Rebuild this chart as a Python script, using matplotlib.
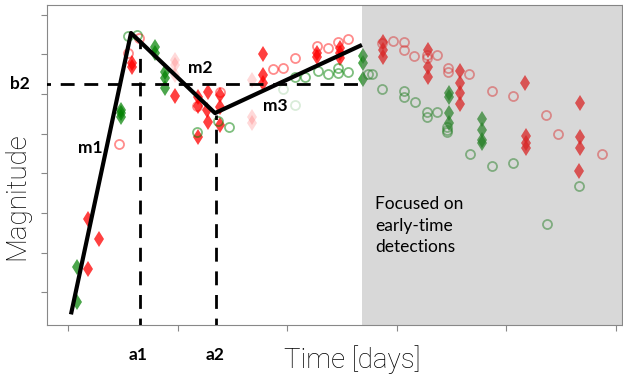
import matplotlib.pyplot as plt

# piecewise fit (days, magnitude)
fit_x = [0.27, 5.75, 13.41, 26.82]
fit_y = [0.44, 7.54, 5.52, 7.24]
a1, a2, b2 = 6.57, 13.50, 6.25
t_cut = 26.82

red_d_x = [1.82, 2.83, 1.82, 5.84, 5.84, 9.76, 12.77, 11.86, 13.87, 11.86, 12.68, 12.77, 13.87, 13.87, 11.86,
           17.79, 17.79, 17.79, 22.72, 22.72, 24.82, 24.82, 24.82,
           28.74, 28.74, 28.74, 32.85, 32.85, 32.85, 35.77, 35.77, 35.77, 35.77, 41.70, 41.79, 41.79, 41.79,
           46.72, 46.72, 46.72, 46.67]
red_d_y = [2.84, 2.34, 1.58, 6.78, 6.68, 5.95, 6.05, 5.93, 5.98, 5.70, 5.60, 5.29, 5.67, 5.22, 4.91,
           7.01, 6.48, 6.28, 7.04, 6.93, 7.16, 7.04, 6.91,
           7.31, 7.11, 6.93, 7.11, 6.68, 6.43, 6.58, 6.28, 6.03, 5.75, 6.28, 4.94, 4.76, 4.64,
           5.77, 4.91, 4.64, 4.05]

red_o_x = [4.65, 5.47, 6.50, 11.77, 13.87, 18.70, 19.62, 20.71, 22.72, 23.72, 24.64, 25.55,
           28.65, 29.65, 30.66, 30.66, 31.57, 32.76, 32.76, 33.67, 34.67, 34.67, 36.59, 38.69,
           40.60, 43.61, 44.71, 48.72]
red_o_y = [4.74, 7.04, 7.41, 5.70, 6.05, 6.63, 6.66, 6.91, 7.21, 7.16, 7.31, 7.39,
           7.29, 7.34, 7.31, 7.11, 6.96, 6.98, 6.91, 6.98, 6.66, 6.56, 6.51, 6.08,
           5.95, 5.47, 4.99, 4.48]

green_d_x = [0.82, 0.82, 4.84, 4.84, 4.84, 7.94, 7.94, 8.85, 8.85, 8.85,
             26.92, 26.92, 26.92, 34.76, 34.76, 34.76, 34.76, 37.77, 37.77, 37.77, 37.77]
green_d_y = [1.63, 0.75, 5.60, 5.52, 5.42, 7.19, 7.04, 6.56, 6.40, 6.15,
             6.96, 6.78, 6.38, 6.03, 5.93, 5.52, 5.27, 5.37, 5.09, 4.84, 4.76]

green_o_x = [5.50, 6.30, 11.77, 13.70, 14.70, 20.71, 21.62, 22.81, 23.72, 24.64, 25.55, 24.64,
             27.37, 27.74, 28.65, 30.66, 30.66, 31.66, 32.76, 32.76, 33.67, 34.58, 34.58, 34.58,
             36.68, 38.69, 40.60, 46.62, 43.70]
green_o_y = [7.46, 7.49, 5.04, 5.31, 5.17, 6.43, 6.43, 6.58, 6.51, 6.66, 6.56, 6.53,
             6.51, 6.51, 6.13, 6.08, 5.92, 5.80, 5.55, 5.42, 5.55, 5.17, 5.09, 5.04,
             4.48, 4.18, 4.26, 3.68, 2.72]

faint_d_x = [9.76, 9.76, 9.76, 16.79, 16.79, 16.79]
faint_d_y = [6.86, 6.73, 6.48, 6.35, 5.42, 5.27]
faint_o_x = [19.62, 20.71]
faint_o_y = [6.13, 5.72]

fig = plt.figure(figsize=(6.23, 3.78), dpi=100)
ax = fig.add_axes([0.0754, 0.140, 0.923, 0.847])

ax.plot(red_d_x, red_d_y, "d", color="red", alpha=0.75, markersize=8, markeredgewidth=0)
ax.plot(red_o_x, red_o_y, "o", mfc="none", mec="red", alpha=0.45, markersize=6.5, markeredgewidth=1.3)
ax.plot(green_d_x, green_d_y, "d", color="green", alpha=0.7, markersize=8, markeredgewidth=0)
ax.plot(green_o_x, green_o_y, "o", mfc="none", mec="green", alpha=0.5, markersize=6.5, markeredgewidth=1.3)
ax.plot(faint_d_x, faint_d_y, "d", color="red", alpha=0.15, markersize=8, markeredgewidth=0)
ax.plot(faint_o_x, faint_o_y, "o", mfc="none", mec="green", alpha=0.15, markersize=6.5, markeredgewidth=1.3)

ax.axvspan(t_cut, 60, color="gray", alpha=0.3, lw=0, zorder=3)

ax.plot(fit_x, fit_y, color="black", lw=3, zorder=4, solid_capstyle="butt")
ax.plot([-5, t_cut], [b2, b2], "--", color="black", lw=2, dashes=(5, 3.5), zorder=4)
ax.plot([a1, a1], [0, 7.36], "--", color="black", lw=2, dashes=(5, 3.5), zorder=4)
ax.plot([a2, a2], [0, 5.47], "--", color="black", lw=2, dashes=(5, 3.5), zorder=4)

ax.set_xlim(-1.92, 50.55)
ax.set_ylim(0.17, 8.25)
ax.set_xticks([0, 10, 20, 30, 40, 50])
ax.set_yticks(range(1, 9))
ax.set_xticklabels([])
ax.set_yticklabels([])
ax.tick_params(color="#888888", length=4, width=0.8)
for s in ax.spines.values():
    s.set_color("#888888")

lab = dict(fontsize=12.5, fontweight="bold", family="Lato")
ax.text(-0.047, b2, "b2", transform=ax.get_yaxis_transform(), ha="center", va="center", **lab)
ax.text(a1 - 0.2, -0.094, "a1", transform=ax.get_xaxis_transform(), ha="center", va="center", **lab)
ax.text(a2 - 0.1, -0.094, "a2", transform=ax.get_xaxis_transform(), ha="center", va="center", **lab)
ax.text(2.0, 4.64, "m1", ha="center", va="center", zorder=6, **lab)
ax.text(12.04, 6.66, "m2", ha="center", va="center", zorder=6, **lab)
ax.text(18.9, 5.70, "m3", ha="center", va="center", zorder=6, **lab)
ax.text(28.0, 3.42, "Focused on\nearly-time\ndetections", ha="left", va="top", fontsize=12.5,
        family="Lato", linespacing=1.4, zorder=6)

fig.text(352 / 623, 1 - 360 / 378, "Time [days]", ha="center", va="center", fontsize=20,
         family="Roboto", fontweight="light")
fig.text(17 / 623, 1 - 196 / 378, "Magnitude", ha="center", va="center", rotation=90, fontsize=20,
         family="Roboto", fontweight="light")

fig.savefig("out.png", dpi=100)
